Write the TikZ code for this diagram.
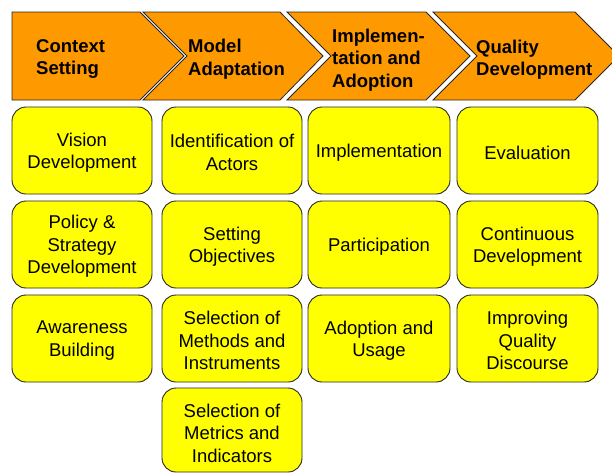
\documentclass[tikz,border=0pt]{standalone}
\usepackage{fontspec}
\setmainfont{Liberation Sans}
\definecolor{chevorange}{HTML}{FF9900}
\definecolor{itemyellow}{HTML}{FFFF00}
\begin{document}
\begin{tikzpicture}[x=1pt,y=-1pt,
  chev/.style={fill=chevorange,draw=black!85,line width=0.8pt,line join=miter},
  item/.style={rectangle,fill=itemyellow,draw=black!85,line width=0.9pt,
    rounded corners=14pt,inner sep=0pt,minimum width=140pt,minimum height=87pt},
  itemtext/.style={inner sep=0pt,align=center,yshift=-2pt,
    font=\fontsize{18.5}{22.5}\selectfont},
  headtext/.style={anchor=west,inner sep=0pt,align=left,
    font=\bfseries\fontsize{18.5}{22.5}\selectfont}]
\useasboundingbox (0,0) rectangle (612,472);
\begin{scope}
\clip (0,0) rectangle (612,472);

% phase chevrons
\draw[chev] (12,12) -- (140,12) -- (184,56) -- (140,100) -- (12,100) -- cycle;
\draw[chev] (143,12) -- (280,12) -- (323,56) -- (280,100) -- (143,100) -- (187,56) -- cycle;
\draw[chev] (287,12) -- (426,12) -- (470,56) -- (426,100) -- (287,100) -- (331,56) -- cycle;
\draw[chev] (433,12) -- (575,12) -- (619,56) -- (575,100) -- (433,100) -- (477,56) -- cycle;

\node[headtext] (h1) at (36,59) {Context\\Setting};
\node[headtext] (h2) at (188,59) {Model\\Adaptation};
\node[headtext] (h3) at (332,60) {Implemen-\\tation and\\Adoption};
\node[headtext] (h4) at (476,59.5) {Quality\\Development};

% activity boxes, column by column
\node[item] (c1r1) at (82,150.5) {};
\node[item] (c1r2) at (82,244.5) {};
\node[item] (c1r3) at (82,338.5) {};
\node[itemtext] (t1a) at (c1r1) {Vision\\Development};
\node[itemtext] (t1b) at (c1r2) {Policy \&\\Strategy\\Development};
\node[itemtext] (t1c) at (c1r3) {Awareness\\Building};

\node[item] (c2r1) at (232,150.5) {};
\node[item] (c2r2) at (232,244.5) {};
\node[item] (c2r3) at (232,338.5) {};
\node[item,minimum height=84pt] (c2r4) at (232,430) {};
\node[itemtext] (t2a) at (c2r1) {Identification of\\Actors};
\node[itemtext] (t2b) at (c2r2) {Setting\\Objectives};
\node[itemtext] (t2c) at (c2r3) {Selection of\\Methods and\\Instruments};
\node[itemtext] (t2d) at ([yshift=-1pt]c2r4) {Selection of\\Metrics and\\Indicators};

\node[item,minimum width=142pt] (c3r1) at (379,150.5) {};
\node[item,minimum width=142pt] (c3r2) at (379,244.5) {};
\node[item,minimum width=142pt] (c3r3) at (379,338.5) {};
\node[itemtext] (t3a) at (c3r1) {Implementation};
\node[itemtext] (t3b) at (c3r2) {Participation};
\node[itemtext] (t3c) at (c3r3) {Adoption and\\Usage};

\node[item,minimum width=141pt] (c4r1) at (527.5,150.5) {};
\node[item,minimum width=141pt] (c4r2) at (527.5,244.5) {};
\node[item,minimum width=141pt] (c4r3) at (527.5,338.5) {};
\node[itemtext] (t4a) at (c4r1) {Evaluation};
\node[itemtext] (t4b) at (c4r2) {Continuous\\Development};
\node[itemtext] (t4c) at (c4r3) {Improving\\Quality\\Discourse};
\end{scope}
\end{tikzpicture}
\end{document}
